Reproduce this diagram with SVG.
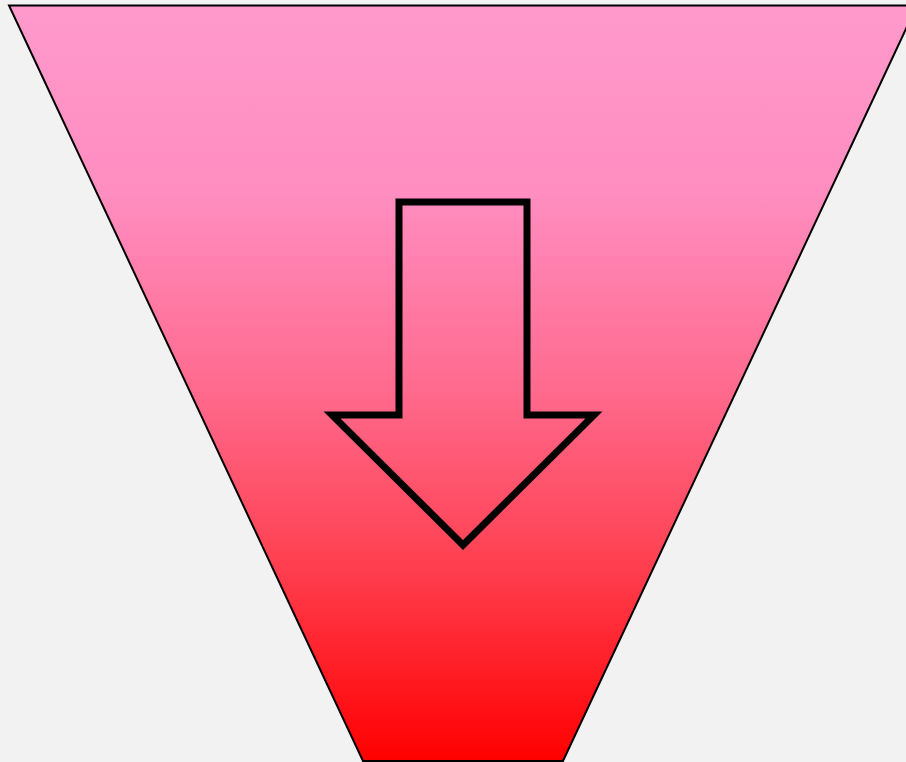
<svg xmlns="http://www.w3.org/2000/svg" width="906" height="762" viewBox="0 0 906 762">
<defs>
<linearGradient id="g" x1="0" y1="0" x2="0" y2="1">
<stop offset="0" stop-color="#ff99cc"/>
<stop offset="0.25" stop-color="#ff8dc0"/>
<stop offset="0.5" stop-color="#ff6b8f"/>
<stop offset="0.72" stop-color="#ff4456"/>
<stop offset="1" stop-color="#ff0000"/>
</linearGradient>
<style>
.funnel{fill:url(#g);stroke:#000;stroke-width:2;stroke-linejoin:miter}
.arrow{fill:none;stroke:#000;stroke-width:7;stroke-linejoin:miter;stroke-miterlimit:10}
</style>
</defs>
<rect width="906" height="762" fill="#f2f2f2"/>
<g id="funnel">
<path class="funnel" d="M9,5.5 L917,5.5 L563,761 L363,761 Z"/>
</g>
<g id="arrow">
<path class="arrow" d="M399,202 L527,202 L527,415 L594,415 L463,545 L332,415 L399,415 Z"/>
</g>
<g id="connectors"/>
</svg>
